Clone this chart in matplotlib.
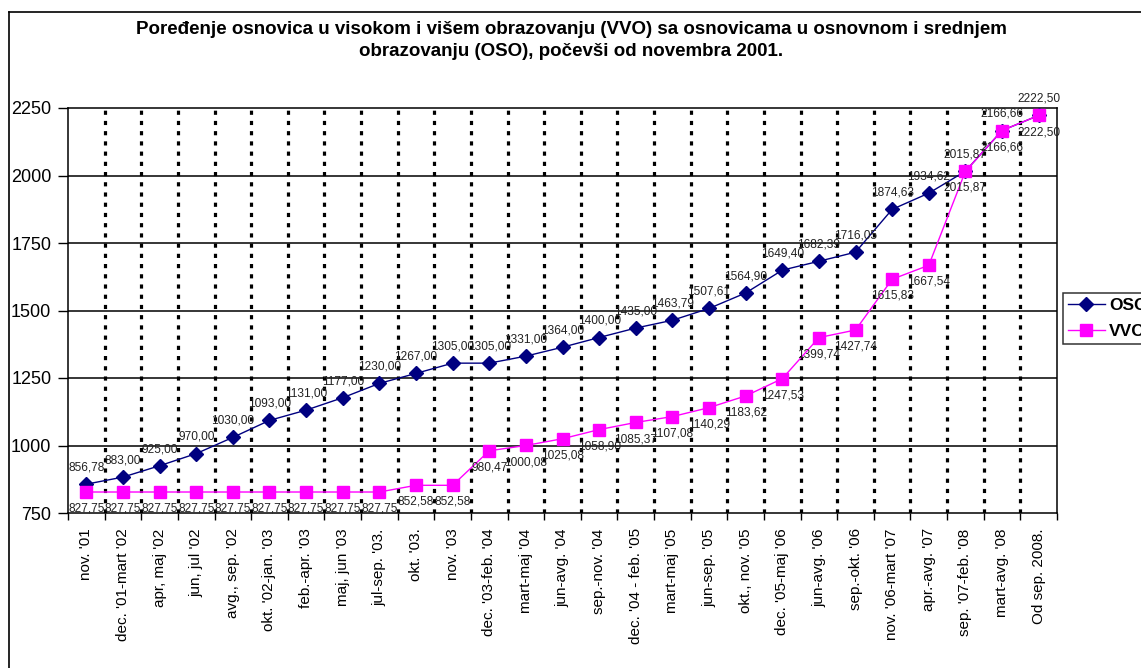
import numpy as np
import matplotlib
matplotlib.use("Agg")
import matplotlib.pyplot as plt
from matplotlib.lines import Line2D

plt.rcParams["font.family"] = ["Liberation Sans", "DejaVu Sans"]

categories = [
    "nov. '01", "dec. '01-mart '02", "apr, maj '02", "jun, jul '02",
    "avg., sep. '02", "okt. '02-jan. '03", "feb.-apr. '03", "maj, jun '03",
    "jul-sep. '03.", "okt. '03.", "nov. '03", "dec. '03-feb. '04",
    "mart-maj '04", "jun-avg. '04", "sep.-nov. '04", "dec. '04 - feb. '05",
    "mart-maj '05", "jun-sep. '05", "okt., nov. '05", "dec. '05-maj '06",
    "jun-avg. '06", "sep.-okt. '06", "nov. '06-mart '07", "apr.-avg. '07",
    "sep. '07-feb. '08", "mart-avg. '08", "Od sep. 2008.",
]
oso = [856.78, 883.00, 925.00, 970.00, 1030.00, 1093.00, 1131.00, 1177.00,
       1230.00, 1267.00, 1305.00, 1305.00, 1331.00, 1364.00, 1400.00, 1435.00,
       1463.79, 1507.61, 1564.90, 1649.40, 1682.39, 1716.05, 1874.63, 1934.62,
       2015.87, 2166.66, 2222.50]
vvo = [827.75, 827.75, 827.75, 827.75, 827.75, 827.75, 827.75, 827.75,
       827.75, 852.58, 852.58, 980.47, 1000.08, 1025.08, 1058.90, 1085.37,
       1107.08, 1140.29, 1183.62, 1247.53, 1399.74, 1427.74, 1615.83, 1667.54,
       2015.87, 2166.66, 2222.50]

W, H = 1141, 668
fig = plt.figure(figsize=(W / 100, H / 100), dpi=100)
ax = fig.add_axes([68 / W, 1 - 513 / H, (1057 - 68) / W, (513 - 108) / H])

x = np.arange(len(categories))

# grid: solid horizontal, heavy dotted vertical at category boundaries
for yv in [1000, 1250, 1500, 1750, 2000]:
    ax.axhline(yv, color="black", lw=1.1, zorder=1)
for xb in np.arange(0.5, len(categories) - 1, 1.0):
    ax.axvline(xb, color="black", lw=2.3, ls=(0, (1.3, 1.9)), zorder=1)

ax.plot(x, oso, color="#000080", lw=1.0, marker="D", ms=7,
        mfc="#000080", mec="#000080", label="OSO", zorder=3)
ax.plot(x, vvo, color="#FF00FF", lw=1.0, marker="s", ms=8.5,
        mfc="#FF00FF", mec="#FF00FF", label="VVO", zorder=3)

fmt = lambda v: f"{v:.2f}".replace(".", ",")
for xi, v in zip(x, oso):
    ax.annotate(fmt(v), (xi, v), xytext=(0, 12), textcoords="offset points",
                ha="center", va="center", fontsize=8.6, color="#222222",
                zorder=4, annotation_clip=False)
for xi, v in zip(x, vvo):
    ax.annotate(fmt(v), (xi, v), xytext=(0, -12), textcoords="offset points",
                ha="center", va="center", fontsize=8.6, color="#222222",
                zorder=4, annotation_clip=False)

ax.set_xlim(-0.5, len(categories) - 0.5)
ax.set_ylim(750, 2250)
ax.set_yticks([750, 1000, 1250, 1500, 1750, 2000, 2250])
ax.tick_params(axis="y", labelsize=13, length=7, width=1, pad=5)
ax.set_xticks(x)
ax.set_xticklabels(categories, rotation=90, fontsize=11)
ax.set_xticks(np.arange(-0.5, len(categories), 1.0), minor=True)
ax.tick_params(axis="x", which="major", length=0, pad=11)
ax.tick_params(axis="x", which="minor", length=5, width=1)
for s in ax.spines.values():
    s.set_linewidth(1.1)

fig.text(571 / W, 1 - 30 / H,
         "Poređenje osnovica u visokom i višem obrazovanju (VVO) sa osnovicama u osnovnom i srednjem",
         ha="center", va="center", fontsize=13.5, fontweight="bold")
fig.text(571 / W, 1 - 52 / H,
         "obrazovanju (OSO), počevši od novembra 2001.",
         ha="center", va="center", fontsize=13.5, fontweight="bold")

# outer chart border (runs off the right and bottom edges)
fig.add_artist(Line2D([9 / W, 1.05], [1 - 12 / H, 1 - 12 / H], color="black",
                      lw=1.2, transform=fig.transFigure))
fig.add_artist(Line2D([9 / W, 9 / W], [1 - 12 / H, -0.05], color="black",
                      lw=1.2, transform=fig.transFigure))

leg = fig.legend(loc="upper left", bbox_to_anchor=(1063 / W, 1 - 293 / H),
                 borderaxespad=0, frameon=True, fancybox=False,
                 edgecolor="black", prop={"size": 12.5, "weight": "bold"},
                 handlelength=2.1, borderpad=0.3, labelspacing=0.62,
                 handletextpad=0.25)
leg.get_frame().set_linewidth(1.1)

fig.savefig("out.png", dpi=100)
